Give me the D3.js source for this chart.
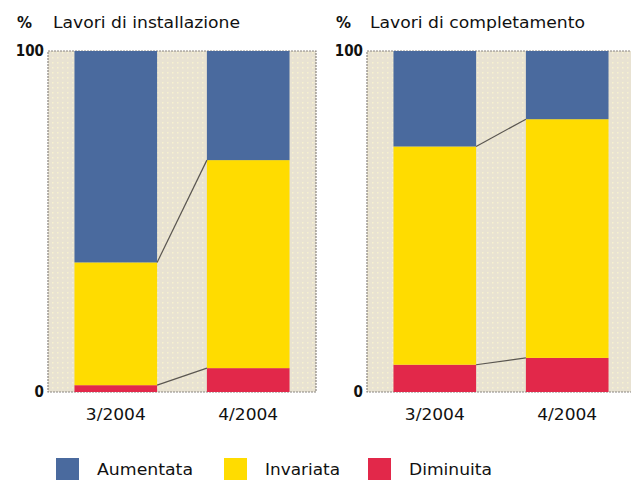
<!DOCTYPE html>
<html>
<head>
<meta charset="utf-8">
<script src="https://cdn.jsdelivr.net/npm/d3@7"></script>
<style>
  body { margin: 0; background: #fff; }
  text { font-family: "DejaVu Sans", "Liberation Sans", sans-serif; fill: #111; }
</style>
</head>
<body>
<svg id="chart" width="631" height="480"></svg>
<script>
// data (percent)
var periods = ["3/2004", "4/2004"];
var seriesNames = ["Diminuita", "Invariata", "Aumentata"];
var legendOrder = ["Aumentata", "Invariata", "Diminuita"];
var panelTitles = ["Lavori di installazione", "Lavori di completamento"];
var installazione = { Diminuita: [2, 7], Invariata: [36, 61], Aumentata: [62, 32] };
var completamento = { Diminuita: [8, 10], Invariata: [64, 70], Aumentata: [28, 20] };
var yTicks = [0, 100];

var colors = { Aumentata: "#4a6a9e", Invariata: "#ffdc00", Diminuita: "#e2284a" };

var svg = d3.select("#chart");

var defs = svg.append("defs");
var pat = defs.append("pattern")
    .attr("id", "dots")
    .attr("width", 5).attr("height", 5)
    .attr("patternUnits", "userSpaceOnUse");
pat.append("rect").attr("width", 5).attr("height", 5).attr("fill", "#e8e2d2");
pat.append("rect").attr("x", 2).attr("y", 2).attr("width", 1.5).attr("height", 1.5).attr("fill", "#f8f3cf");

var y = d3.scaleLinear().domain([0, 100]).range([392, 51]);

function drawPanel(left, title, values, titleX, titleW) {
    var plotW = 268;
    var x = d3.scaleBand().domain(periods).range([left, left + plotW])
              .paddingInner(0.376).paddingOuter(0.2);

    var rows = periods.map(function(p, i) {
        var r = { period: p };
        seriesNames.forEach(function(s) { r[s] = values[s][i]; });
        return r;
    });
    var stacked = d3.stack().keys(seriesNames)(rows);

    var g = svg.append("g");

    g.append("rect")
     .attr("x", left).attr("y", y(100))
     .attr("width", plotW).attr("height", y(0) - y(100))
     .attr("fill", "url(#dots)")
     .attr("stroke", "#8a8580").attr("stroke-width", 1.2)
     .attr("stroke-dasharray", "2,1");

    g.selectAll("g.layer")
     .data(stacked)
     .enter().append("g")
     .attr("class", "layer")
     .attr("fill", function(d) { return colors[d.key]; })
     .selectAll("rect")
     .data(function(d) { return d; })
     .enter().append("rect")
     .attr("x", function(d) { return x(d.data.period); })
     .attr("y", function(d) { return y(d[1]); })
     .attr("width", x.bandwidth())
     .attr("height", function(d) { return y(d[0]) - y(d[1]); });

    // connector lines between the bars
    stacked.slice(0, 2).forEach(function(layer) {
        g.append("line")
         .attr("x1", x(periods[0]) + x.bandwidth())
         .attr("y1", y(layer[0][1]))
         .attr("x2", x(periods[1]))
         .attr("y2", y(layer[1][1]))
         .attr("stroke", "#5a5650").attr("stroke-width", 1.2);
    });

    var yAxis = d3.axisLeft(y).tickValues(yTicks).tickSize(0).tickPadding(4)
                  .tickFormat(d3.format("d"));
    var ya = g.append("g").attr("transform", "translate(" + left + ",0)").call(yAxis);
    ya.select(".domain").remove();
    ya.selectAll("text").style("font-size", "15px").style("font-weight", "bold")
      .style("font-family", "'DejaVu Sans Condensed', sans-serif").attr("fill", "#111");

    var xAxis = d3.axisBottom(x).tickSize(0).tickPadding(17);
    var xa = g.append("g").attr("transform", "translate(0," + y(0) + ")").call(xAxis);
    xa.select(".domain").remove();
    xa.selectAll("text").style("font-size", "16px")
      .style("font-family", "'DejaVu Sans', sans-serif").attr("fill", "#111")
      .attr("textLength", 60).attr("lengthAdjust", "spacingAndGlyphs");

    g.append("text")
     .attr("x", left - 31).attr("y", 28)
     .style("font-size", "15px").style("font-weight", "bold")
     .text("%");
    g.append("text")
     .attr("x", titleX).attr("y", 28)
     .style("font-size", "15px")
     .attr("textLength", titleW).attr("lengthAdjust", "spacingAndGlyphs")
     .text(title);
}

drawPanel(48, panelTitles[0], installazione, 53, 187);
drawPanel(367, panelTitles[1], completamento, 370, 215);

var legend = svg.append("g").attr("transform", "translate(0,458)");
var legendX = [56, 224, 368];
var legendW = [96, 75, 83];
legendOrder.forEach(function(name, i) {
    legend.append("rect")
          .attr("x", legendX[i]).attr("y", 0)
          .attr("width", 23).attr("height", 22)
          .attr("fill", colors[name]);
    legend.append("text")
          .attr("x", legendX[i] + 41).attr("y", 17)
          .style("font-size", "16px")
          .attr("textLength", legendW[i]).attr("lengthAdjust", "spacingAndGlyphs")
          .text(name);
});
</script>
</body>
</html>
